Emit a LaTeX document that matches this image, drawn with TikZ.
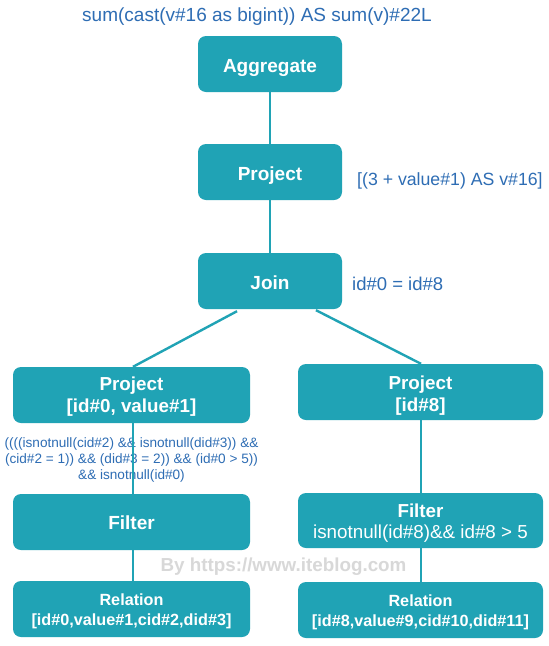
\documentclass[tikz,border=0pt]{standalone}
\usepackage{fontspec}
\setmainfont{Liberation Sans}
\usetikzlibrary{calc}
\definecolor{teal1}{HTML}{20A3B5}
\definecolor{bluetext}{HTML}{2E6DB4}
\definecolor{wmark}{HTML}{D8D8D8}
\begin{document}
\begin{tikzpicture}[x=1pt,y=-1pt,
  box/.style={draw=none,fill=teal1,rounded corners=8pt,inner sep=0pt},
  btext/.style={text=white,font=\bfseries\fontsize{19}{22}\selectfont,align=center,inner sep=0pt},
  smalltext/.style={btext,font=\bfseries\fontsize{18.8}{22}\selectfont},
  reltext/.style={btext,font=\bfseries\fontsize{16.2}{19.5}\selectfont},
  lbl/.style={text=bluetext,font=\fontsize{17.7}{20}\selectfont,inner sep=0pt},
  cond/.style={text=bluetext,font=\fontsize{13.6}{16.2}\selectfont,align=center,inner sep=0pt},
  link/.style={draw=teal1,line width=2.4pt}]
\useasboundingbox (0,0) rectangle (549,646);
\fill[white] (0,0) rectangle (549,646);
% top title
\node[lbl,font=\fontsize{19}{22}\selectfont] (title) at (257,17) {sum(cast(v\#16 as bigint)) AS sum(v)\#22L};
% boxes
\node[box,minimum width=144,minimum height=56] (agg) at (270,64) {};
\node[box,minimum width=144,minimum height=56] (proj) at (270,172) {};
\node[box,minimum width=144,minimum height=56] (join) at (270,281) {};
\node[box,minimum width=237,minimum height=56] (lproj) at (131.5,395) {};
\node[box,minimum width=245,minimum height=56] (rproj) at (420.5,392) {};
\node[box,minimum width=237,minimum height=56] (lfilter) at (131.5,522) {};
\node[box,minimum width=245,minimum height=55] (rfilter) at (420.5,520.5) {};
\node[box,minimum width=237,minimum height=56] (lrel) at (131.5,609) {};
\node[box,minimum width=245,minimum height=56] (rrel) at (420.5,610) {};
% box texts
\node[btext] (aggT) at ([yshift=-3.5pt]agg.center) {Aggregate};
\node[btext] (projT) at ([yshift=-3.5pt]proj.center) {Project};
\node[btext] (joinT) at ([yshift=-2pt]join.center) {Join};
\node[smalltext] (lprojT) at ([yshift=-2pt]lproj.center) {Project\\{}[id\#0, value\#1]};
\node[smalltext] (rprojT) at ([yshift=-3.5pt]rproj.center) {Project\\{}[id\#8]};
\node[btext] (lfilterT) at ([yshift=-1pt]lfilter.center) {Filter};
\node[btext,font=\fontsize{18.8}{21.5}\selectfont] (rfilterT) at ([yshift=-2.5pt]rfilter.center) {\textbf{Filter}\\isnotnull(id\#8)\&\& id\#8 > 5};
\node[reltext] (lrelT) at ([yshift=-2.5pt]lrel.center) {Relation\\{}[id\#0,value\#1,cid\#2,did\#3]};
\node[reltext] (rrelT) at ([yshift=-2.5pt]rrel.center) {Relation\\{}[id\#8,value\#9,cid\#10,did\#11]};
% side labels
\node[lbl,anchor=west] (projlbl) at (357,181) {[(3 + value\#1) AS v\#16]};
\node[lbl,anchor=west,font=\fontsize{18.5}{21}\selectfont] (joinlbl) at (352,284) {id\#0 = id\#8};
\node[cond] (condlbl) at (131.5,460) {((((isnotnull(cid\#2) \&\& isnotnull(did\#3)) \&\&\\(cid\#2 = 1)) \&\& (did\#3 = 2)) \&\& (id\#0 > 5))\\\&\& isnotnull(id\#0)};
% watermark
\node[text=wmark,font=\bfseries\fontsize{18.8}{21}\selectfont,inner sep=0pt] (wm) at (283.5,567) {By https://www.iteblog.com};
% connectors
\draw[link] (agg.south) -- (proj.north);
\draw[link] (proj.south) -- (join.north);
\draw[link] ([xshift=-33pt,yshift=-2pt]join.south) -- ([xshift=1.5pt]lproj.north);
\draw[link] ([xshift=46pt,yshift=-1pt]join.south) -- ([xshift=0.5pt]rproj.north);
\draw[link] ([xshift=1.5pt]lproj.south) -- ([xshift=1.5pt]lfilter.north);
\draw[link] ([xshift=1.5pt]lfilter.south) -- ([xshift=1.5pt]lrel.north);
\draw[link] ([xshift=0.5pt]rproj.south) -- ([xshift=0.5pt]rfilter.north);
\draw[link] ([xshift=0.5pt]rfilter.south) -- ([xshift=0.5pt]rrel.north);
\end{tikzpicture}
\end{document}
